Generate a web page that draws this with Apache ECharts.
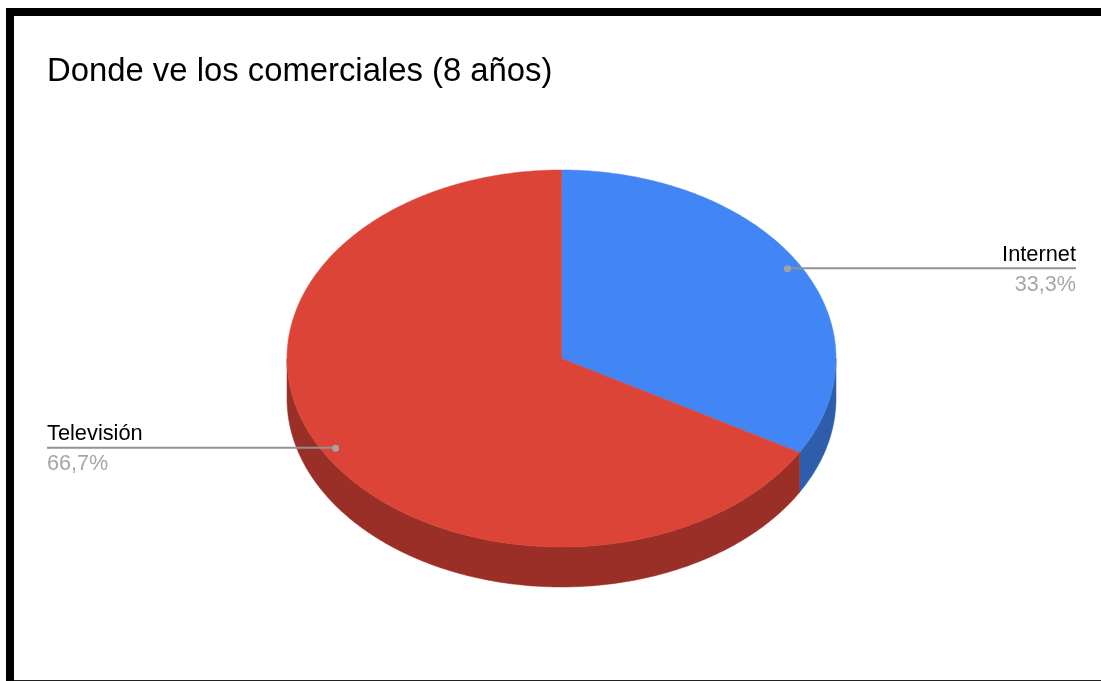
<!DOCTYPE html>
<html><head><meta charset="utf-8">
<style>html,body{margin:0;padding:0;background:#fff}#c{width:1101px;height:681px}</style>
<script src="https://cdn.jsdelivr.net/npm/echarts@6/dist/echarts.min.js"></script>
</head><body><div id="c"></div>
<script>
var categories = ['Internet', 'Televisión'];
var values = [33.3, 66.7];
var topColors = ['#4285F4', '#DB4437'];
var sideColors = ['#2E5DAB', '#992F26'];

var total = values.reduce(function (a, b) { return a + b; }, 0);
var CX = 561.5, CY = 358.5, RX = 274.5, RY = 188.5, DEPTH = 40;
var LABEL_RATIO = 0.951, LEFT_X = 47, RIGHT_X = 1076;

function pt(deg, k, dz) {
  var a = deg * Math.PI / 180;
  return [CX + RX * k * Math.sin(a), CY - RY * k * Math.cos(a) + (dz || 0)];
}
function arc(from, to, dz) {
  var pts = [];
  var n = Math.max(2, Math.ceil((to - from) * 2));
  for (var i = 0; i <= n; i++) pts.push(pt(from + (to - from) * i / n, 1, dz));
  return pts;
}
function renderItem(params, api) {
  var idx = params.dataIndex;
  var before = 0;
  for (var i = 0; i < idx; i++) before += values[i];
  var start = before / total * 360;
  var end = (before + api.value(1)) / total * 360;
  var mid = (start + end) / 2;
  var children = [];
  var s = Math.max(start, 90), e = Math.min(end, 270);
  if (e > s) {
    var upper = arc(s, e, 0), lower = arc(s, e, DEPTH).reverse();
    children.push({ type: 'polygon', shape: { points: upper.concat(lower) },
      style: { fill: sideColors[idx], stroke: sideColors[idx], lineWidth: 0.5 } });
  }
  var top = [[CX, CY]].concat(arc(start, end, 0));
  children.push({ type: 'polygon', shape: { points: top },
    style: { fill: topColors[idx], stroke: topColors[idx], lineWidth: 0.5 } });
  var p = pt(mid, LABEL_RATIO, 0);
  var right = Math.sin(mid * Math.PI / 180) > 0;
  var x2 = right ? RIGHT_X : LEFT_X;
  var align = right ? 'right' : 'left';
  children.push({ type: 'line', shape: { x1: p[0], y1: p[1] - 0.5, x2: x2, y2: p[1] - 0.5 },
    style: { stroke: '#929292', lineWidth: 2 } });
  children.push({ type: 'circle', shape: { cx: p[0], cy: p[1], r: 3.5 },
    style: { fill: '#a3a3a3' } });
  children.push({ type: 'text', style: { x: x2, y: p[1] - 3, text: categories[idx], align: align,
    verticalAlign: 'bottom', fill: '#000000', font: '21.8px "Liberation Sans", Arial, sans-serif' } });
  children.push({ type: 'text', style: { x: x2, y: p[1] + 5, text: api.value(1).toFixed(1).replace('.', ',') + '%', align: align,
    verticalAlign: 'top', fill: '#a6a6a6', font: '21.6px "Liberation Sans", Arial, sans-serif' } });
  return { type: 'group', children: children };
}
var chart = echarts.init(document.getElementById('c'), null, { renderer: 'canvas' });
chart.setOption({
  animation: false,
  backgroundColor: '#ffffff',
  title: { text: 'Donde ve los comerciales (8 años)', left: 42, top: 50,
    textStyle: { fontFamily: '"Liberation Sans", Arial, sans-serif', fontSize: 32.85, fontWeight: 'normal', color: '#000000' } },
  graphic: [
    { type: 'rect', shape: { x: 6, y: 8, width: 1095, height: 8 }, style: { fill: '#000' } },
    { type: 'rect', shape: { x: 6, y: 8, width: 8, height: 673 }, style: { fill: '#000' } },
    { type: 'rect', shape: { x: 14, y: 680, width: 1087, height: 1 }, style: { fill: '#222' } }
  ],
  series: [{
    type: 'custom',
    coordinateSystem: 'none',
    renderItem: renderItem,
    data: categories.map(function (c, i) { return [i, values[i]]; })
  }]
});
</script></body></html>
